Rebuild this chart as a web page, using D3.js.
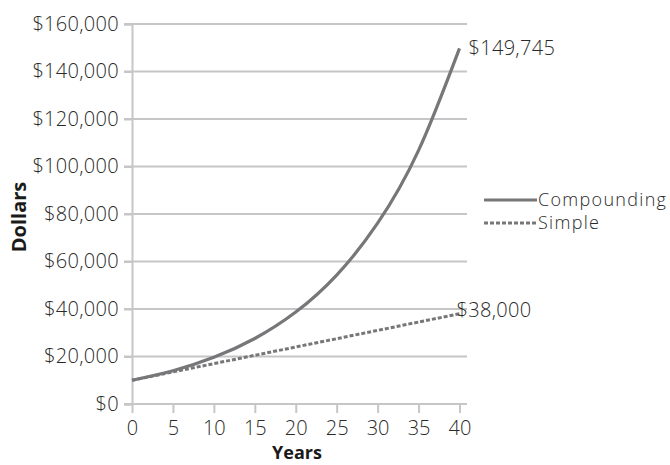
<!DOCTYPE html>
<html>
<head>
<meta charset="utf-8">
<script src="https://cdn.jsdelivr.net/npm/d3@7"></script>
<style>
  body { margin: 0; background: #fff; }
  svg text { font-family: 'Open Sans', sans-serif; }
  .tick text { fill: #2a2a2a; font-weight: 300; }
</style>
</head>
<body>
<div class="chart"></div>
<script>
// years at 5-year steps
const years = [0, 5, 10, 15, 20, 25, 30, 35, 40]
// values
const compounding = [10000, 14026, 19672, 27590, 38697, 54274, 76123, 106766, 149745]
const simple = [10000, 13500, 17000, 20500, 24000, 27500, 31000, 34500, 38000]
const yTicks = [0, 20000, 40000, 60000, 80000, 100000, 120000, 140000, 160000]
const seriesNames = ['Compounding', 'Simple']

const width = 670
const height = 465

const svg = d3.select('.chart')
  .append('svg')
  .attr('width', width)
  .attr('height', height)

const x = d3.scaleLinear().domain([0, 40]).range([132, 459.5])
const y = d3.scaleLinear().domain([0, 160000]).range([404, 24])

const gridColor = '#c6c6c8'
const lineColor = '#77777a'
const textColor = '#2a2a2a'
const fmt = d => '$' + d3.format(',')(d)

// horizontal grid
svg.append('g')
  .selectAll('line')
  .data(yTicks)
  .enter()
  .append('line')
  .attr('x1', 124)
  .attr('x2', 467)
  .attr('y1', d => y(d))
  .attr('y2', d => y(d))
  .attr('stroke', gridColor)
  .attr('stroke-width', 2)

// y axis
const yAxis = svg.append('g')
  .attr('transform', 'translate(132,0)')
  .call(d3.axisLeft(y).tickValues(yTicks).tickFormat(fmt).tickSize(8).tickPadding(5))
yAxis.attr('font-family', null)
yAxis.select('.domain').attr('stroke', gridColor).attr('stroke-width', 2)
yAxis.selectAll('.tick line').attr('stroke', gridColor).attr('stroke-width', 2)
yAxis.selectAll('.tick text').style('font-size', '20px').style('letter-spacing', '0.3px')

// x axis
const xAxis = svg.append('g')
  .attr('transform', 'translate(0,404)')
  .call(d3.axisBottom(x).tickValues(years).tickSize(9).tickPadding(8))
xAxis.attr('font-family', null)
xAxis.select('.domain').attr('d', 'M131,0H467').attr('stroke', gridColor).attr('stroke-width', 2)
xAxis.selectAll('.tick line').attr('stroke', gridColor).attr('stroke-width', 2)
xAxis.selectAll('.tick text').style('font-size', '20px')

// axis titles
svg.append('text')
  .attr('x', 297)
  .attr('y', 459)
  .attr('text-anchor', 'middle')
  .style('font-size', '18px')
  .style('font-weight', 700)
  .attr('fill', '#1a1a1a')
  .text('Years')

svg.append('text')
  .attr('transform', 'translate(26,217) rotate(-90)')
  .attr('text-anchor', 'middle')
  .style('font-size', '20px')
  .style('font-weight', 700)
  .attr('fill', '#1a1a1a')
  .text('Dollars')

// lines
const line = d3.line()
  .x(d => x(d[0]))
  .y(d => y(d[1]))
  .curve(d3.curveNatural)

svg.append('path')
  .datum(years.map((t, i) => [t, simple[i]]))
  .attr('d', d3.line().x(d => x(d[0])).y(d => y(d[1])))
  .attr('fill', 'none')
  .attr('stroke', lineColor)
  .attr('stroke-width', 3)
  .attr('stroke-dasharray', '4,2')

svg.append('path')
  .datum(years.map((t, i) => [t, compounding[i]]))
  .attr('d', line)
  .attr('fill', 'none')
  .attr('stroke', lineColor)
  .attr('stroke-width', 3.2)

// end labels
svg.append('text')
  .attr('x', x(40) + 9)
  .attr('y', y(compounding[compounding.length - 1]))
  .attr('dy', '0.35em')
  .style('font-size', '20px')
  .style('font-weight', 300)
  .style('letter-spacing', '0.3px')
  .attr('fill', textColor)
  .text(fmt(compounding[compounding.length - 1]))

svg.append('text')
  .attr('x', x(40) - 3)
  .attr('y', y(simple[simple.length - 1]) - 4)
  .attr('dy', '0.35em')
  .style('font-size', '20px')
  .style('font-weight', 300)
  .style('letter-spacing', '0.3px')
  .attr('fill', textColor)
  .text(fmt(simple[simple.length - 1]))

// legend
const leg = svg.append('g').attr('transform', 'translate(484,200)')
seriesNames.forEach((name, i) => {
  leg.append('line')
    .attr('x1', 0)
    .attr('x2', 53)
    .attr('y1', i * 23)
    .attr('y2', i * 23)
    .attr('stroke', lineColor)
    .attr('stroke-width', 3)
    .attr('stroke-dasharray', i === 1 ? '4,2' : null)
  leg.append('text')
    .attr('x', 54)
    .attr('y', i * 23)
    .attr('dy', '0.35em')
    .style('font-size', '18px')
    .style('font-weight', 300)
    .style('letter-spacing', '1.3px')
    .attr('fill', textColor)
    .text(name)
})
</script>
</body>
</html>
